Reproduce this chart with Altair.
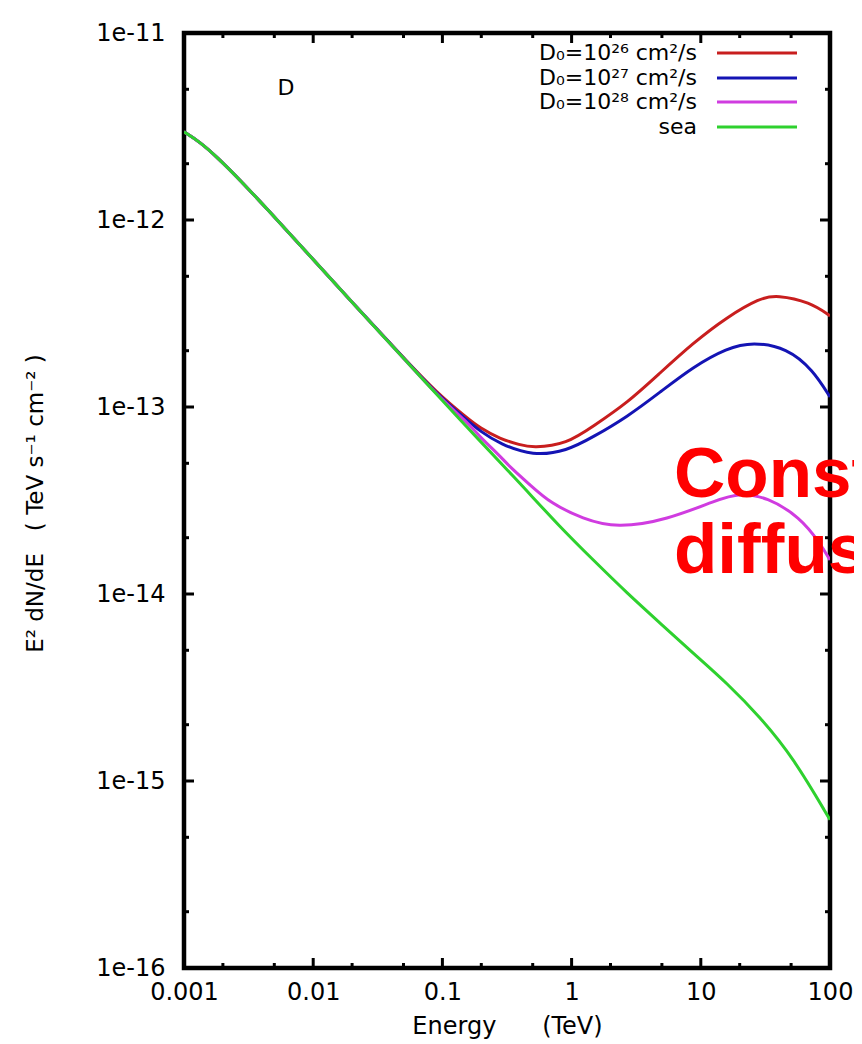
import altair as alt
import pandas as pd

# ---- data: Energy (TeV) and E^2 dN/dE (TeV s^-1 cm^-2)
series_names = ["D\u2080=10\u00b2\u2076 cm\u00b2/s", "D\u2080=10\u00b2\u2077 cm\u00b2/s",
                "D\u2080=10\u00b2\u2078 cm\u00b2/s", "sea"]
series_colors = ["#c81e1e", "#1414b4", "#d03ce0", "#2ed12e"]

# low-energy part shared by all four curves
low_E = [0.001, 0.00133, 0.0018, 0.00271, 0.00464, 0.00791, 0.0193]
low_F = [2.96e-12, 2.61e-12, 2.17e-12, 1.64e-12, 1.10e-12, 7.35e-13, 3.73e-13]

sea_E = low_E + [0.0532, 0.130, 0.378, 0.813, 1.47, 2.69, 4.83, 8.71, 15.96, 28.7, 51.8, 100]
sea_F = low_F + [1.74e-13, 8.85e-14, 4.07e-14, 2.28e-14, 1.52e-14, 1.01e-14, 7.0e-15,
                 4.83e-15, 3.34e-15, 2.20e-15, 1.34e-15, 6.2e-16]

d26_E = low_E + [0.0532, 0.0908, 0.155, 0.195, 0.279, 0.399, 0.502, 0.920, 1.47, 2.69,
                 4.83, 8.71, 15.96, 28.7, 38.9, 70.0, 100]
d26_F = low_F + [1.75e-13, 1.19e-13, 8.73e-14, 7.73e-14, 6.75e-14, 6.27e-14, 6.04e-14,
                 6.34e-14, 7.90e-14, 1.05e-13, 1.52e-13, 2.20e-13, 3.03e-13, 3.83e-13,
                 3.97e-13, 3.64e-13, 3.07e-13]

d27_E = low_E + [0.0532, 0.0908, 0.155, 0.195, 0.279, 0.502, 0.920, 1.47, 2.69, 4.83,
                 8.71, 15.96, 25.3, 46.5, 73.8, 100]
d27_F = low_F + [1.75e-13, 1.17e-13, 8.51e-14, 7.44e-14, 6.34e-14, 5.47e-14, 5.82e-14,
                 6.92e-14, 8.85e-14, 1.20e-13, 1.64e-13, 2.07e-13, 2.23e-13, 2.07e-13,
                 1.58e-13, 1.13e-13]

d28_E = low_E + [0.0532, 0.0908, 0.155, 0.195, 0.279, 0.333, 0.477, 0.681, 1.225, 2.24,
                 5.47, 13.3, 20.1, 32.5, 58.6, 83.7, 100]
d28_F = low_F + [1.74e-13, 1.16e-13, 8.32e-14, 6.92e-14, 5.47e-14, 4.78e-14, 3.83e-14,
                 3.07e-14, 2.52e-14, 2.25e-14, 2.49e-14, 3.18e-14, 3.47e-14, 3.30e-14,
                 2.58e-14, 1.87e-14, 1.52e-14]

x_major = [0.001, 0.01, 0.1, 1, 10, 100]
x_minor = [0.002, 0.005, 0.02, 0.05, 0.2, 0.5, 2, 5, 20, 50]
y_major = [1e-16, 1e-15, 1e-14, 1e-13, 1e-12, 1e-11]
y_minor = [2e-16, 5e-16, 2e-15, 5e-15, 2e-14, 5e-14, 2e-13, 5e-13, 2e-12, 5e-12]

panel_label = "D"
overlay_lines = ["Constant", "diffusion"]

# ---- build tables
frames = []
for name, E, F in zip(series_names, [d26_E, d27_E, d28_E, sea_E], [d26_F, d27_F, d28_F, sea_F]):
    frames.append(pd.DataFrame({"E": E, "F": F, "series": name}))
df = pd.concat(frames, ignore_index=True)

W, H = 646, 935
FONT = "DejaVu Sans"
NB = "\u00a0"

xscale = alt.Scale(type="log", domain=[0.001, 100], nice=False)
yscale = alt.Scale(type="log", domain=[1e-16, 1e-11], nice=False)

xaxis = alt.Axis(values=x_major, format="~g", ticks=False, domain=False, grid=False,
                 labelFlush=False, labelFontSize=24, labelPadding=12, labelColor="black",
                 labelFont=FONT,
                 title="Energy" + NB * 6 + "(TeV)", titleFontSize=24, titleFont=FONT,
                 titleFontWeight="normal", titleColor="black", titleY=58, titleBaseline="middle")
yaxis = alt.Axis(values=y_major, labelExpr="'1e' + round(log(datum.value)/LN10)",
                 ticks=False, domain=False, grid=False, labelFlush=False, labelFontSize=24,
                 labelPadding=19, labelColor="black", labelFont=FONT,
                 title="E\u00b2 dN/dE" + NB * 3 + "(" + NB + "TeV s\u207b\u00b9 cm\u207b\u00b2" + NB + ")",
                 titleFontSize=23, titleFont=FONT, titleFontWeight="normal", titleColor="black",
                 titleX=-149, titleY=470, titleAngle=270, titleBaseline="middle", titleAlign="center")

layers = []
for name, col in zip(series_names, series_colors):
    layers.append(
        alt.Chart(df).transform_filter(alt.datum.series == name)
        .mark_line(color=col, strokeWidth=3, interpolate="basis", clip=True)
        .encode(x=alt.X("E:Q", scale=xscale, axis=xaxis),
                y=alt.Y("F:Q", scale=yscale, axis=yaxis),
                order=alt.Order("E:Q"))
    )

# inward ticks on all four sides
def xticks(vals, length):
    d = pd.DataFrame({"E": vals})
    out = []
    for y0, y1 in [(H, H - length), (0, length)]:
        out.append(alt.Chart(d).mark_rule(color="black", strokeWidth=3)
                   .encode(x=alt.X("E:Q", scale=xscale, axis=xaxis),
                           y=alt.value(y0), y2=alt.value(y1)))
    return out

def yticks(vals, length):
    d = pd.DataFrame({"F": vals})
    out = []
    for x0, x1 in [(0, length), (W, W - length)]:
        out.append(alt.Chart(d).mark_rule(color="black", strokeWidth=3)
                   .encode(y=alt.Y("F:Q", scale=yscale, axis=yaxis),
                           x=alt.value(x0), x2=alt.value(x1)))
    return out

layers += xticks(x_major, 10) + xticks(x_minor, 5) + yticks(y_major, 10) + yticks(y_minor, 5)

# legend (top right, labels right-aligned with line samples)
leg_rows = [20, 45, 69, 94]
for name, col, yy in zip(series_names, series_colors, leg_rows):
    ld = pd.DataFrame({"label": [name]})
    layers.append(alt.Chart(ld).mark_text(align="right", baseline="middle", fontSize=22,
                                          font=FONT, color="black")
                  .encode(text="label:N", x=alt.value(513), y=alt.value(yy)))
    layers.append(alt.Chart(ld).mark_rule(color=col, strokeWidth=3)
                  .encode(x=alt.value(533), x2=alt.value(613), y=alt.value(yy)))

# panel label
layers.append(alt.Chart(pd.DataFrame({"t": [panel_label]}))
              .mark_text(fontSize=22, font=FONT, color="black", baseline="middle")
              .encode(text="t:N", x=alt.value(102), y=alt.value(55)))

# red overlay text
for txt, yy in zip(overlay_lines, [464, 540]):
    layers.append(alt.Chart(pd.DataFrame({"t": [txt]}))
                  .mark_text(fontSize=71, font="Liberation Sans", fontWeight="bold",
                             color="#ff0000", align="left", baseline="alphabetic")
                  .encode(text="t:N", x=alt.value(490), y=alt.value(yy)))

chart = alt.layer(*layers).properties(
    width=W, height=H,
    autosize=alt.AutoSizeParams(type="none"),
    padding={"left": 176, "top": 25, "right": 24, "bottom": 80},
    background="white",
).configure_view(stroke="black", strokeWidth=4.5)

chart.save("out.html", embed_options={"renderer": "svg", "actions": False})
